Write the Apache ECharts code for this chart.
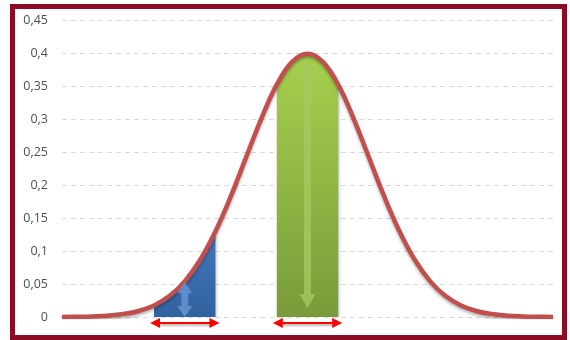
<!DOCTYPE html>
<html>
<head>
<meta charset="utf-8">
<script src="https://cdn.jsdelivr.net/npm/echarts@6/dist/echarts.min.js"></script>
<style>
  html, body { margin: 0; padding: 0; background: #fff; }
  #chart { width: 570px; height: 340px; }
</style>
</head>
<body>
<div id="chart"></div>
<script>
// bell curve (x in standard deviations)
const xs = [-4, -3.75, -3.5, -3.25, -3, -2.75, -2.5, -2.25, -2, -1.75, -1.5, -1.25, -1, -0.75, -0.5, -0.25,
            0, 0.25, 0.5, 0.75, 1, 1.25, 1.5, 1.75, 2, 2.25, 2.5, 2.75, 3, 3.25, 3.5, 3.75, 4];
const density = [0.0001, 0.0004, 0.0009, 0.002, 0.0044, 0.0091, 0.0175, 0.0317, 0.054, 0.0863, 0.1295, 0.1826,
                 0.242, 0.3011, 0.3521, 0.3867, 0.3989, 0.3867, 0.3521, 0.3011, 0.242, 0.1826, 0.1295, 0.0863,
                 0.054, 0.0317, 0.0175, 0.0091, 0.0044, 0.002, 0.0009, 0.0004, 0.0001];
// shaded intervals
const blueRange = [-2.5, -1.5];
const greenRange = [-0.5, 0.5];
// y axis ticks
const yTicks = [0, 0.05, 0.1, 0.15, 0.2, 0.25, 0.3, 0.35, 0.4, 0.45];
const yTickLabels = ['0', '0,05', '0,1', '0,15', '0,2', '0,25', '0,3', '0,35', '0,4', '0,45'];

const curve = xs.map((x, i) => [x, density[i]]);
const slice = r => curve.filter(p => p[0] >= r[0] && p[0] <= r[1]);

const chart = echarts.init(document.getElementById('chart'));

const option = {
  animation: false,
  grid: { left: 62, right: 17, top: 20, bottom: 23 },
  xAxis: {
    type: 'value', min: -4, max: 4,
    axisLine: { show: false }, axisTick: { show: false }, axisLabel: { show: false },
    splitLine: { show: false }
  },
  yAxis: {
    type: 'value', min: 0, max: 0.45, interval: 0.05,
    axisLine: { show: false }, axisTick: { show: false },
    axisLabel: {
      margin: 14, color: '#505050', fontSize: 12.5, fontFamily: 'Open Sans',
      formatter: v => yTickLabels[yTicks.findIndex(t => Math.abs(t - v) < 1e-6)]
    },
    splitLine: { lineStyle: { color: '#d9d9d9', type: [5, 4], width: 1 } }
  },
  series: [
    {
      type: 'line', data: slice(blueRange), smooth: 0.4, symbol: 'none',
      lineStyle: { width: 0 },
      areaStyle: {
        opacity: 1,
        color: new echarts.graphic.LinearGradient(0, 0, 0, 1, [
          { offset: 0, color: '#4377bd' }, { offset: 1, color: '#31629f' }
        ]),
        shadowColor: 'rgba(0,0,0,0.25)', shadowBlur: 3, shadowOffsetX: 1, shadowOffsetY: 1
      }
    },
    {
      type: 'line', data: slice(greenRange), smooth: 0.4, symbol: 'none',
      lineStyle: { width: 0 },
      areaStyle: {
        opacity: 1,
        color: new echarts.graphic.LinearGradient(0, 0, 0, 1, [
          { offset: 0, color: '#a6d14e' }, { offset: 1, color: '#7a9b3a' }
        ]),
        shadowColor: 'rgba(0,0,0,0.25)', shadowBlur: 3, shadowOffsetX: 1, shadowOffsetY: 1
      }
    },
    {
      type: 'line', data: curve, smooth: 0.4, symbol: 'none', z: 5,
      lineStyle: {
        color: '#c0504d', width: 4.5,
        shadowColor: 'rgba(0,0,0,0.3)', shadowBlur: 3, shadowOffsetY: 2
      }
    }
  ]
};
chart.setOption(option);

// arrows built in pixel space from the data positions
const px = (x, y) => chart.convertToPixel({ gridIndex: 0 }, [x, y]);

function hArrow(x1, x2, y, color) {
  const h = 5, l = 10;
  return [
    { type: 'line', shape: { x1: x1 + l - 2, y1: y, x2: x2 - l + 2, y2: y },
      style: { stroke: color, lineWidth: 2, shadowColor: 'rgba(0,0,0,0.3)', shadowBlur: 2, shadowOffsetY: 2 }, z: 20 },
    { type: 'polygon', shape: { points: [[x1, y], [x1 + l, y - h], [x1 + l, y + h]] }, style: { fill: color }, z: 20 },
    { type: 'polygon', shape: { points: [[x2, y], [x2 - l, y - h], [x2 - l, y + h]] }, style: { fill: color }, z: 20 }
  ];
}

function vArrow(x, y1, y2, shaft, head, headLen, color) {
  return [{
    type: 'polygon', z: 20,
    shape: { points: [
      [x, y1], [x + head / 2, y1 + headLen], [x + shaft / 2, y1 + headLen],
      [x + shaft / 2, y2 - headLen], [x + head / 2, y2 - headLen], [x, y2],
      [x - head / 2, y2 - headLen], [x - shaft / 2, y2 - headLen],
      [x - shaft / 2, y1 + headLen], [x - head / 2, y1 + headLen]
    ] },
    style: { fill: color }
  }];
}

const graphics = [];
// frame
graphics.push({ type: 'rect', shape: { x: 12.5, y: 6.5, width: 552, height: 331 },
  style: { fill: null, stroke: '#8b0a24', lineWidth: 5 }, z: 30 });

// red width arrows below the shaded bands
[blueRange, greenRange].forEach(r => {
  const a = px(r[0], 0), b = px(r[1], 0);
  graphics.push(...hArrow(a[0] - 4, b[0] + 4, a[1] + 6, '#ff0000'));
});

// height arrows inside the bands
{
  const mid = (blueRange[0] + blueRange[1]) / 2;
  const top = px(mid, density[xs.indexOf(mid)]);
  const bot = px(mid, 0);
  graphics.push(...vArrow(top[0], top[1] + 1, bot[1], 7, 15, 11, 'rgba(100,148,210,0.85)'));
}
{
  const mid = (greenRange[0] + greenRange[1]) / 2;
  const top = px(mid, density[xs.indexOf(mid)]);
  const bot = px(mid, 0);
  graphics.push(...vArrow(top[0], top[1] + 8, bot[1] - 9, 7, 16, 14, 'rgba(165,200,95,0.8)'));
}

chart.setOption({ graphic: graphics });
</script>
</body>
</html>
